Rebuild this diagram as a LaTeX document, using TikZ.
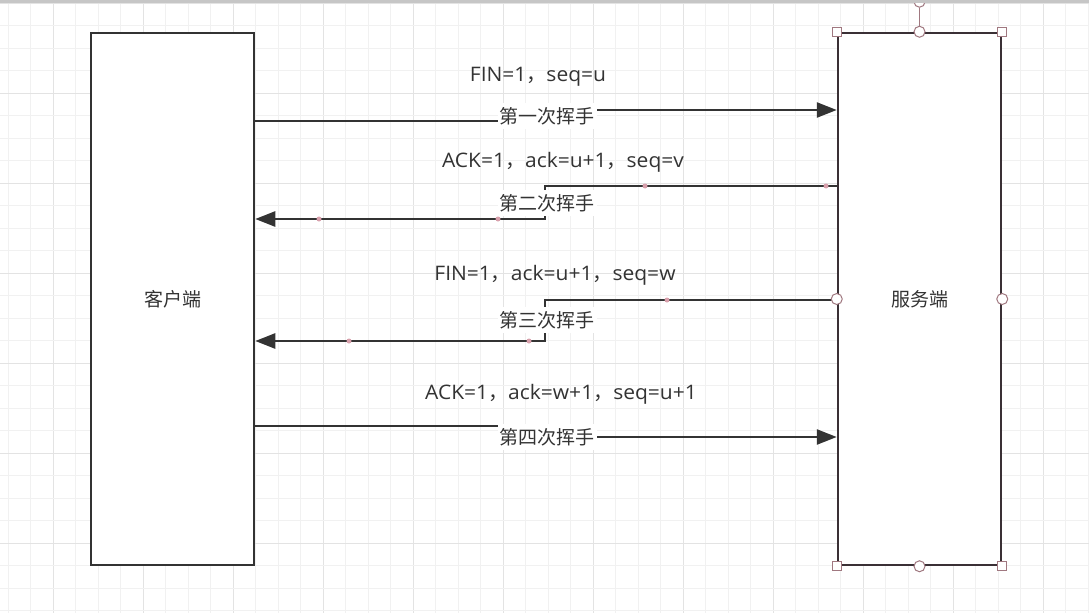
\documentclass[tikz,border=0pt]{standalone}
\usepackage{fontspec}
\setmainfont{Noto Sans CJK SC}
\newfontfamily\latf[FakeStretch=1.05]{Open Sans}
\usetikzlibrary{arrows.meta}
\definecolor{ink}{HTML}{333333}
\definecolor{srvline}{HTML}{3A3035}
\definecolor{handle}{HTML}{A07880}
\definecolor{wp}{HTML}{D8A0AC}
\definecolor{gridminor}{HTML}{F1F1F1}
\definecolor{gridmajor}{HTML}{E3E3E3}
\newcommand\cmx{{\rmfamily ，}}
\begin{document}
\begin{tikzpicture}[x=1pt,y=-1pt,
  box/.style={draw=ink, line width=2.5pt, fill=white, minimum width=163pt, minimum height=532pt, inner sep=0pt, text=ink, font=\fontsize{19}{22}\selectfont},
  conn/.style={draw=ink, line width=2.5pt, -{Triangle[length=20pt,width=15pt]}},
  msg/.style={text=ink, inner sep=1pt, font=\fontsize{20}{24}\selectfont\latf},
  lbl/.style={text=ink, fill=white, inner xsep=2pt, inner ysep=4pt, font=\fontsize{19}{22}\selectfont},
  sq/.style={draw=handle, fill=white, line width=1pt, minimum size=9pt, inner sep=0pt, rectangle},
  rd/.style={draw=handle, fill=white, line width=1pt, minimum size=11pt, inner sep=0pt, circle},
  wpt/.style={fill=wp, circle, minimum size=5pt, inner sep=0pt}]
\useasboundingbox (0,0) rectangle (1089,613);
\fill[white] (0,0) rectangle (1089,613);
% grid
\foreach \k in {0,...,48}{
  \pgfmathsetmacro{\gx}{8+22.5*\k}
  \pgfmathtruncatemacro{\m}{mod(\k,4)}
  \ifnum\m=2 \draw[gridmajor, line width=1pt] (\gx,0) -- (\gx,613);
  \else \draw[gridminor, line width=1pt] (\gx,0) -- (\gx,613); \fi
}
\foreach \k in {0,...,27}{
  \pgfmathsetmacro{\gy}{3+22.5*\k}
  \pgfmathtruncatemacro{\m}{mod(\k,4)}
  \ifnum\m=0 \draw[gridmajor, line width=1pt] (0,\gy) -- (1089,\gy);
  \else \draw[gridminor, line width=1pt] (0,\gy) -- (1089,\gy); \fi
}
% boxes
\node[box] (client) at (172.5,299) {客户端};
\node[box, draw=srvline] (server) at (919.5,299) {服务端};
% connectors
\draw[conn] ([yshift=178pt]client.east) -- ++(292,0) |- ([yshift=189pt]server.west);
\draw[conn] ([yshift=113pt]server.west) -- ++(-292,0) |- ([yshift=80pt]client.east);
\draw[conn] ([yshift=-1pt]server.west) -- ++(-292,0) |- ([yshift=-42pt]client.east);
\draw[conn] ([yshift=-127pt]client.east) -- ++(292,0) |- ([yshift=-138pt]server.west);
% labels
\node[msg] (m1) at (538,77) {FIN=1\cmx seq=u};
\node[lbl] (h1) at (547,116) {第一次挥手};
\node[msg] (m2) at (563,162) {ACK=1\cmx ack=u+1\cmx seq=v};
\node[lbl] (h2) at (547,203) {第二次挥手};
\node[msg] (m3) at (555,275) {FIN=1\cmx ack=u+1\cmx seq=w};
\node[lbl] (h3) at (547,320) {第三次挥手};
\node[msg] (m4) at (561,394) {ACK=1\cmx ack=w+1\cmx seq=u+1};
\node[lbl] (h4) at (547,437) {第四次挥手};
% waypoint dots
\foreach \p [count=\i] in {(645,186),(826,186),(498,219),(319,219),(667,300),(529,341),(349,341)}
  \node[wpt] (w\i) at \p {};
% selection handles
\draw[handle, line width=1pt] (server.north) -- ++(0,-24);
\node[rd] (rot) at ([yshift=30pt]server.north) {};
\draw[gray!45, line width=2.5pt] (0,1.5) -- (1089,1.5);
\node[sq] (c1) at (server.north west) {};
\node[sq] (c2) at (server.north east) {};
\node[sq] (c3) at (server.south west) {};
\node[sq] (c4) at (server.south east) {};
\node[rd] (e1) at (server.north) {};
\node[rd] (e2) at (server.south) {};
\node[rd] (e3) at (server.west) {};
\node[rd] (e4) at (server.east) {};
\end{tikzpicture}
\end{document}
